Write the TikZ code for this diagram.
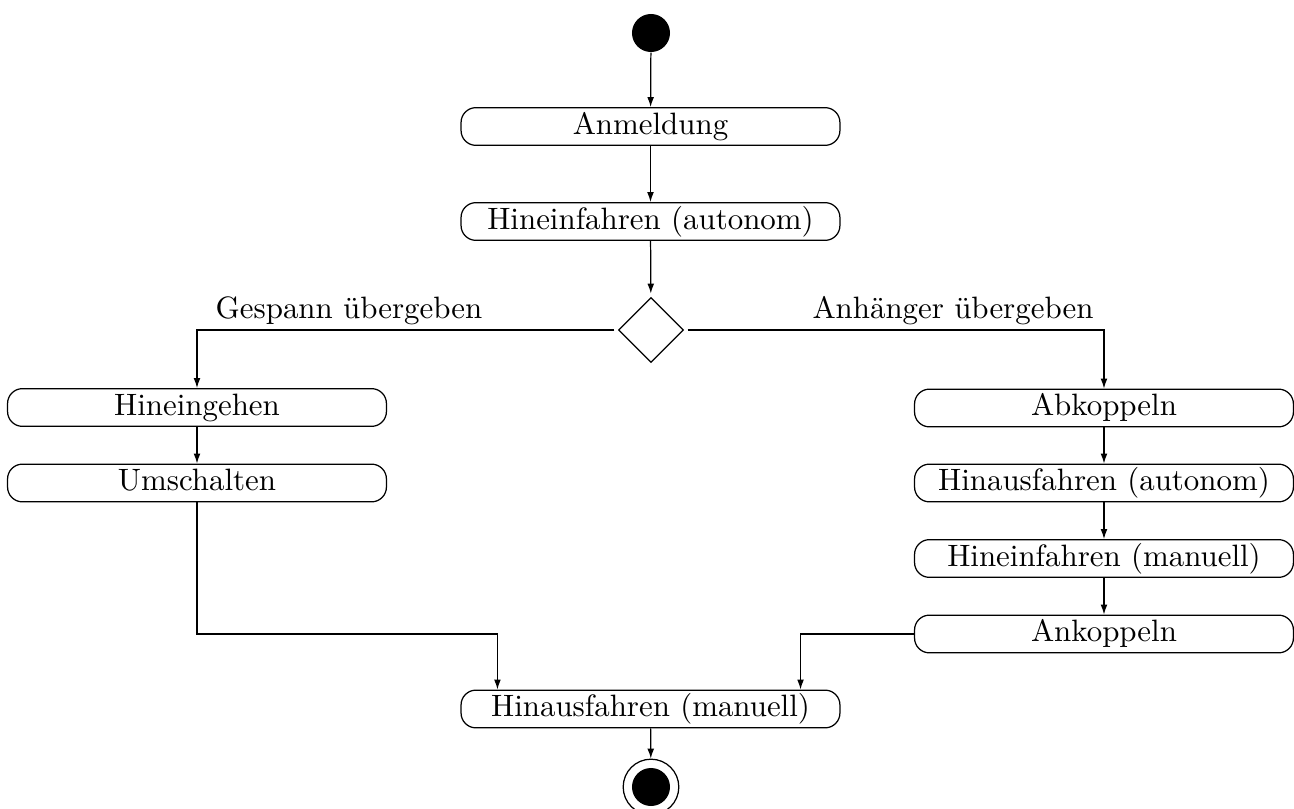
\documentclass[tikz,border=0pt]{standalone}
\usetikzlibrary{shapes.geometric,arrows.meta}
\begin{document}
\begin{tikzpicture}[x=0.3236pt,y=-0.3236pt,
  action/.style={draw, rounded corners=4.8pt, minimum width=122.6pt,
    minimum height=12.2pt, inner sep=0pt, text height=7.5pt, text depth=2.5pt},
  decision/.style={draw, diamond, aspect=1, minimum width=21.7pt,
    minimum height=21.7pt, inner sep=0pt, outer sep=1pt},
  startstate/.style={circle, fill=black, minimum size=12.3pt, inner sep=0pt},
  endring/.style={circle, draw, minimum size=18pt, inner sep=0pt},
  guard/.style={anchor=base, inner sep=0pt},
  flow/.style={-{Latex[length=3.2pt,width=2.2pt]}}]
\useasboundingbox (0,0) rectangle (1294,809);

% states and actions
\node[startstate] (start) at (651,33) {};
\node[action] (anm) at (650.5,126.5) {Anmeldung};
\node[action] (hin) at (650.5,221.5) {Hineinfahren (autonom)};
\node[decision] (dec) at (651,330) {};

\node[action] (geh) at (197,407.5) {Hineingehen};
\node[action] (ums) at (197,483) {Umschalten};

\node[action] (abk) at (1104,408) {Abkoppeln};
\node[action] (haa) at (1104,483) {Hinausfahren (autonom)};
\node[action] (him) at (1104,558.5) {Hineinfahren (manuell)};
\node[action] (ank) at (1104,634) {Ankoppeln};

\node[action] (ham) at (650.5,709) {Hinausfahren (manuell)};
\node[endring] (end) at (651,787) {};
\node[startstate] (endin) at (651,787) {};

% guards of the decision
\node[guard] (lblL) at (349,318) {Gespann übergeben};
\node[guard] (lblR) at (953,318) {Anhänger übergeben};

% entry points on the final action
\path (ham.north west) ++(37,0) coordinate (hamL);
\path (ham.north east) ++(-40,0) coordinate (hamR);

% control flow
\draw[flow] (start) -- (anm);
\draw[flow] (anm) -- (hin);
\draw[flow] (hin) -- (dec);
\draw[flow] (dec.west) -| (geh.north);
\draw[flow] (dec.east) -| (abk.north);
\draw[flow] (geh) -- (ums);
\draw[flow] (abk) -- (haa);
\draw[flow] (haa) -- (him);
\draw[flow] (him) -- (ank);
\draw[flow] (ums.south) |- (ank.west -| hamL) -- (hamL);
\draw[flow] (ank.west) -| (hamR);
\draw[flow] (ham) -- (end);
\end{tikzpicture}
\end{document}
